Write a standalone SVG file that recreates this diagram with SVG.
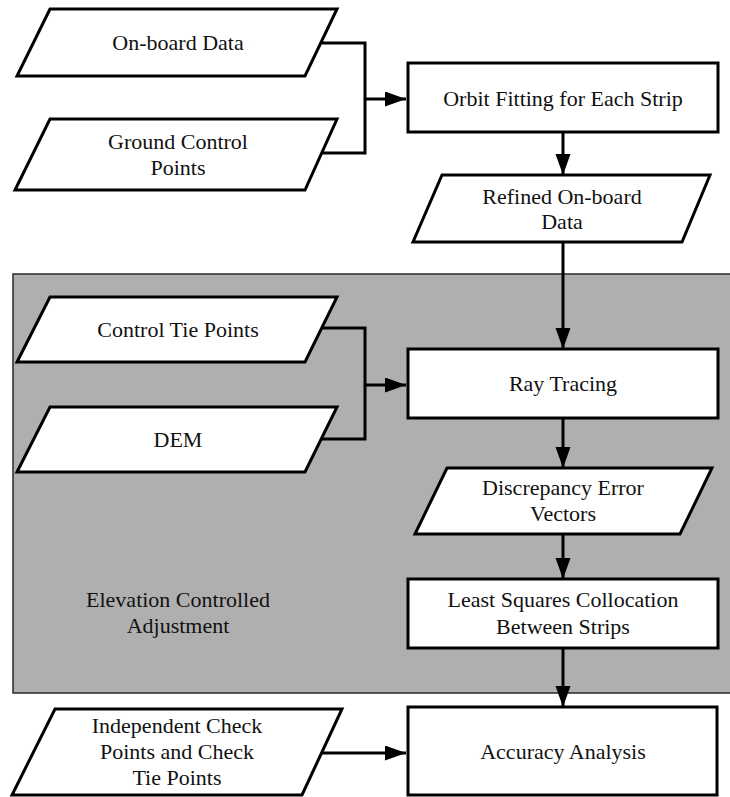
<svg xmlns="http://www.w3.org/2000/svg" width="730" height="797" viewBox="0 0 730 797">
<defs>
<marker id="ah" markerUnits="userSpaceOnUse" markerWidth="22" markerHeight="16" refX="21" refY="7.5" orient="auto">
<path d="M0,0 L21,7.5 L0,15 Z" fill="#000"/>
</marker>
<style>
.n{fill:#fff;stroke:#000;stroke-width:3;stroke-linejoin:miter}
.t{font-size:22px;fill:#111;text-anchor:middle}
.c{fill:none;stroke:#000;stroke-width:3}
</style>
</defs>
<rect width="730" height="797" fill="#fff"/>
<g font-family="Liberation Serif, Times New Roman, Times, serif">
<g id="region">
<rect x="13" y="274" width="725" height="419" fill="#afafaf" stroke="#2a2a2a" stroke-width="1.5"/>
<text class="t" x="178" y="607">Elevation Controlled</text>
<text class="t" x="178" y="633">Adjustment</text>
</g>
<g id="connectors">
<path class="c" d="M322,43 H365 V153 H322"/>
<path class="c" d="M365,99 H406" marker-end="url(#ah)"/>
<path class="c" d="M563,132 V175" marker-end="url(#ah)"/>
<path class="c" d="M563,242 V349" marker-end="url(#ah)"/>
<path class="c" d="M322,328 H365 V439 H322"/>
<path class="c" d="M365,385 H406" marker-end="url(#ah)"/>
<path class="c" d="M563,418 V468" marker-end="url(#ah)"/>
<path class="c" d="M563,534 V579" marker-end="url(#ah)"/>
<path class="c" d="M563,648 V707" marker-end="url(#ah)"/>
<path class="c" d="M322,753 H406" marker-end="url(#ah)"/>
</g>
<g id="onboard">
<polygon class="n" points="50,9 337,9 305,76 17,76"/>
<text class="t" x="178" y="50">On-board Data</text>
</g>
<g id="gcp">
<polygon class="n" points="50,119 337,119 305,190 15,190"/>
<text class="t" x="178" y="149">Ground Control</text>
<text class="t" x="178" y="175">Points</text>
</g>
<g id="orbit">
<rect class="n" x="408" y="63" width="310" height="69"/>
<text class="t" x="563" y="106">Orbit Fitting for Each Strip</text>
</g>
<g id="refined">
<polygon class="n" points="442,175 710,175 682,242 413,242"/>
<text class="t" x="562" y="204">Refined On-board</text>
<text class="t" x="562" y="229">Data</text>
</g>
<g id="ctp">
<polygon class="n" points="50,297 337,297 305,362 17,362"/>
<text class="t" x="178" y="337">Control Tie Points</text>
</g>
<g id="dem">
<polygon class="n" points="50,407 337,407 305,472 17,472"/>
<text class="t" x="178" y="447">DEM</text>
</g>
<g id="ray">
<rect class="n" x="408" y="349" width="310" height="69"/>
<text class="t" x="563" y="391">Ray Tracing</text>
</g>
<g id="discrepancy">
<polygon class="n" points="447,468 712,468 680,534 415,534"/>
<text class="t" x="563" y="495">Discrepancy Error</text>
<text class="t" x="563" y="521">Vectors</text>
</g>
<g id="lsc">
<rect class="n" x="408" y="579" width="310" height="69"/>
<text class="t" x="563" y="607">Least Squares Collocation</text>
<text class="t" x="563" y="634">Between Strips</text>
</g>
<g id="check">
<polygon class="n" points="55,709 342,709 302,795 12,795"/>
<text class="t" x="177" y="733">Independent Check</text>
<text class="t" x="177" y="759">Points and Check</text>
<text class="t" x="177" y="785">Tie Points</text>
</g>
<g id="accuracy">
<rect class="n" x="408" y="707" width="309" height="88"/>
<text class="t" x="563" y="759">Accuracy Analysis</text>
</g>
</g>
</svg>
